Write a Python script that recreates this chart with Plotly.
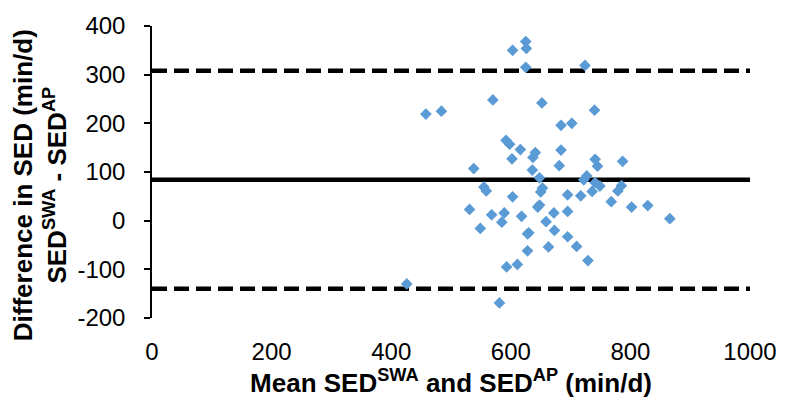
import plotly.graph_objects as go

# Bland-Altman data: mean of the two methods (x) vs difference SWA - AP (y), min/d
mean_sed = [426, 458, 484, 570, 603, 625, 626, 625, 724, 652,
            684, 702, 740, 592, 598, 616, 602, 641, 637, 684,
            681, 538, 636, 741, 745, 787, 648, 727, 722, 741,
            749, 785, 779, 736, 555, 559, 653, 650, 695, 717,
            603, 768, 802, 829, 866, 531, 568, 589, 585, 618,
            648, 645, 672, 659, 695, 549, 630, 628, 673, 695,
            710, 663, 628, 729, 611, 593, 581]
diff_sed = [-130, 219, 225, 248, 350, 368, 354, 315, 319, 242,
            196, 200, 227, 165, 157, 146, 127, 140, 130, 145,
            113, 107, 104, 126, 112, 122, 88, 92, 84, 78,
            71, 72, 61, 60, 69, 61, 67, 59, 53, 51,
            49, 39, 28, 31, 4, 23, 12, 16, -3, 9,
            32, 28, 16, -2, 19, -16, -25, -27, -20, -33,
            -53, -54, -62, -82, -90, -95, -169]

bias = 84
upper_loa = 308
lower_loa = -140
x_span = [0, 1000]

x_ticks = [0, 200, 400, 600, 800, 1000]
y_ticks = [-200, -100, 0, 100, 200, 300, 400]
y_tick_labels = [str(v) for v in y_ticks]  # plain hyphen-minus for negatives

FONT = "Liberation Sans, Arial, sans-serif"

fig = go.Figure()

# limits of agreement (dashed) and mean bias (solid)
for val, dash in [(upper_loa, "15px,7px"), (lower_loa, "15px,7px"), (bias, "solid")]:
    fig.add_trace(go.Scatter(
        x=x_span, y=[val, val], mode="lines",
        line=dict(color="black", width=4.5, dash=dash),
        hoverinfo="skip", showlegend=False,
    ))

fig.add_trace(go.Scatter(
    x=mean_sed, y=diff_sed, mode="markers",
    marker=dict(symbol="diamond", size=9, color="#5B9BD5", line=dict(width=0)),
    showlegend=False,
))

fig.update_layout(
    width=789, height=405,
    margin=dict(l=152, r=31, t=20, b=87),
    paper_bgcolor="white", plot_bgcolor="white",
    font=dict(family=FONT, color="black", size=24),
    xaxis=dict(
        range=[0, 1000], tickvals=x_ticks, showline=False, ticks="",
        showgrid=False, zeroline=False, ticklabelstandoff=17,
        tickfont=dict(size=24),
        title=dict(text="<b>Mean SED<sup>SWA</sup> and SED<sup>AP</sup> (min/d)</b>",
                   font=dict(size=26), standoff=3),
    ),
    yaxis=dict(
        range=[-200, 400], tickvals=y_ticks, ticktext=y_tick_labels,
        showline=True, linecolor="black",
        linewidth=1.5, ticks="outside", ticklen=6, tickwidth=1.5, tickcolor="black",
        showgrid=False, zeroline=False, ticklabelstandoff=14,
        tickfont=dict(size=24),
    ),
    annotations=[dict(
        text="<b>Difference in SED (min/d)<br>SED<sup>SWA</sup> - SED<sup>AP</sup></b>",
        textangle=-90, xref="paper", yref="paper",
        x=(38 - 152) / 606, y=(318 - 183) / 298,
        xanchor="center", yanchor="middle", showarrow=False,
        font=dict(size=26, family=FONT, color="black"),
    )],
)

fig.write_html("out.html")
